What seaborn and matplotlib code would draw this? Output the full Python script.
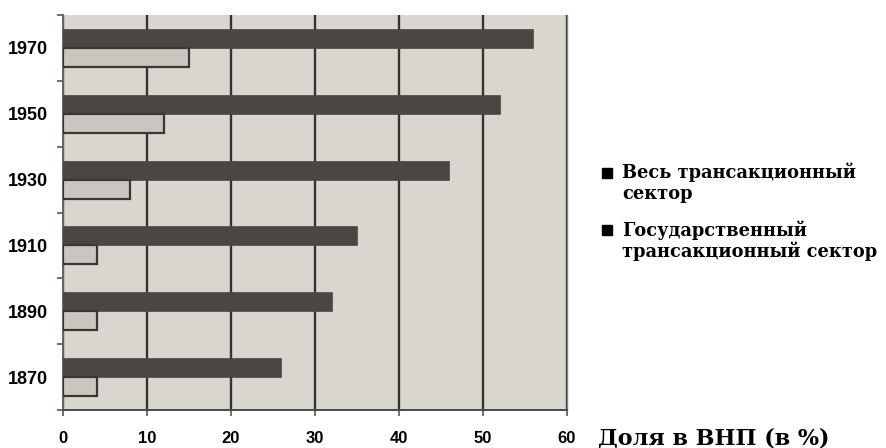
import matplotlib
matplotlib.use("Agg")
import matplotlib.pyplot as plt
import seaborn as sns
import numpy as np
import pandas as pd
from matplotlib.patches import Rectangle

# Data (share of GNP, %)
years = ['1970', '1950', '1930', '1910', '1890', '1870']
total_sector = [56, 52, 46, 35, 32, 26]
state_sector = [15, 12, 8, 4, 4, 4]
sector_names = ['Весь трансакционный\nсектор', 'Государственный\nтрансакционный сектор']
x_ticks = [0, 10, 20, 30, 40, 50, 60]
x_label = 'Доля в ВНП (в %)'

df = pd.DataFrame({
    'year': years * 2,
    'value': total_sector + state_sector,
    'sector': [sector_names[0]] * len(years) + [sector_names[1]] * len(years),
})

sns.set_theme(style='white')
plt.rcParams['font.family'] = ['DejaVu Serif']
plt.rcParams['text.color'] = 'black'

dark = '#4b4643'
light = '#c9c5bf'
bg = '#d9d5cf'
grid = '#333333'

fig = plt.figure(figsize=(8.86, 4.48), dpi=100)
ax = fig.add_axes([63 / 886, 1 - 410 / 448, 504 / 886, 395 / 448])
ax.set_facecolor(bg)

sns.barplot(data=df, x='value', y='year', hue='sector', order=years,
            hue_order=sector_names, palette=[dark, light], width=0.578,
            orient='h', legend=False, ax=ax, zorder=3, saturation=1)

# dark bars without outline, light bars with a dark outline
for bar in ax.containers[0]:
    bar.set_edgecolor(dark)
    bar.set_linewidth(0.5)
for bar in ax.containers[1]:
    bar.set_edgecolor('#3a3633')
    bar.set_linewidth(1.6)

ax.set_xlim(0, 60)
ax.set_ylim(len(years) - 0.5, -0.5)
ax.set_xticks(x_ticks)
ax.xaxis.grid(True, color=grid, linewidth=1.7, zorder=1)
ax.set_axisbelow(True)
ax.yaxis.grid(False)

# year labels at bar groups, tick marks on the group boundaries
ax.set_yticks(np.arange(len(years)))
ax.set_yticks(np.arange(len(years) + 1) - 0.5, minor=True)
ax.tick_params(axis='y', which='major', length=0, pad=11, labelcolor='black')
ax.tick_params(axis='y', which='minor', length=4, width=1.2, color='#555555', direction='out', left=True)
ax.tick_params(axis='x', which='major', length=4, width=1.2, color='#555555', direction='out', bottom=True,
               pad=11, labelcolor='black')

tick_font = dict(family=['Liberation Sans', 'DejaVu Sans'], weight='bold', size=13)
for lab in ax.get_yticklabels():
    lab.set_fontproperties(tick_font)
for lab in ax.get_xticklabels():
    lab.set_fontproperties(dict(tick_font, size=12))

ax.set_ylabel('')
ax.set_xlabel(x_label, fontsize=16, fontweight='bold', family=['DejaVu Serif'], ha='left', va='center',
              color='black')
ax.xaxis.set_label_coords((598 - 63) / 504, (410 - 438) / 395)

ax.spines['top'].set_visible(False)
ax.spines['left'].set_color('#6b6259')
ax.spines['left'].set_linewidth(1.4)
ax.spines['bottom'].set_color('#4a4a4a')
ax.spines['bottom'].set_linewidth(1.4)
ax.spines['right'].set_color('#8a8580')
ax.spines['right'].set_linewidth(1.0)

# legend drawn by hand so the squares sit on the first text line
legend_tops = [173, 230]
for name, y in zip(sector_names, legend_tops):
    fig.add_artist(Rectangle((602 / 886, 1 - (y + 5) / 448), 10 / 886, 10 / 448,
                             transform=fig.transFigure, color='black'))
    fig.text(622 / 886, 1 - (y - 10) / 448, name, fontsize=12.8, fontweight='bold',
             family=['DejaVu Serif'], va='top', ha='left', linespacing=1.15, color='black')

fig.savefig('out.png', dpi=100, facecolor='white')
